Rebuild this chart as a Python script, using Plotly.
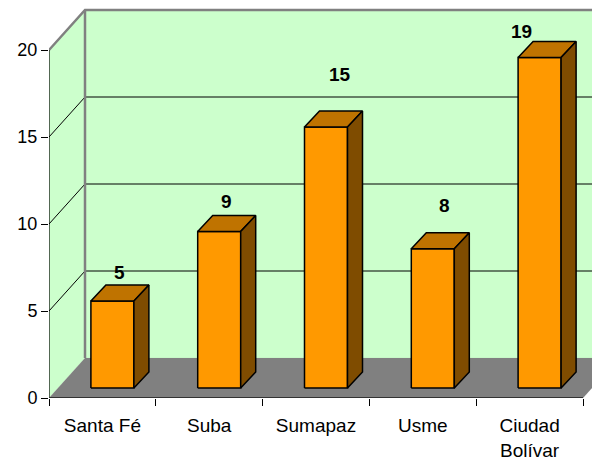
import plotly.graph_objects as go

categories = ["Santa Fé", "Suba", "Sumapaz", "Usme", "Ciudad<br>Bolívar"]
values = [5, 9, 15, 8, 19]
y_ticks = [0, 5, 10, 15, 20]
grid_values = [5, 10, 15]
y_top = 20

# label nudges in px (style only)
label_dx = [0, 0, 6, 4, -26]
label_dy = [0, 1, 24, 15, -3]

# page has an 8px body margin, so the figure is sized to fit inside the window
W, H = 592, 468
ML, MB = 41, 78
UX = 106.8   # px per category
UY = 17.4    # px per value unit
WDX, WDY = 36 / UX, 40 / UY      # wall depth
BFX, BFY = 10 / UX, 10 / UY      # bar front offset
BDX, BDY = 15 / UX, 16 / UY      # bar depth
BW = 43 / UX

FONT = "Liberation Sans, Arial, sans-serif"
WALL = "#CCFFCC"
FLOOR = "#808080"
FRONT = "#FF9900"
TOP = "#BF7300"
SIDE = "#7F4C00"

n = len(categories)
fig = go.Figure()


def poly(xs, ys, fill, line_color, lw):
    fig.add_trace(go.Scatter(x=xs, y=ys, mode="lines", fill="toself", fillcolor=fill,
                             line=dict(color=line_color, width=lw), hoverinfo="skip",
                             showlegend=False, cliponaxis=False))


def seg(xs, ys, color, lw):
    fig.add_trace(go.Scatter(x=xs, y=ys, mode="lines", line=dict(color=color, width=lw),
                             hoverinfo="skip", showlegend=False, cliponaxis=False))


# back wall
poly([WDX, n + WDX, n + WDX, WDX, WDX], [WDY, WDY, y_top + WDY, y_top + WDY, WDY], WALL, WALL, 0.1)
# left wall
poly([0, WDX, WDX, 0, 0], [0, WDY, y_top + WDY, y_top, 0], WALL, WALL, 0.1)
# floor
poly([0, n, n + WDX, WDX, 0], [0, 0, WDY, WDY, 0], FLOOR, FLOOR, 0.1)

# gridlines
for g in grid_values:
    seg([0, WDX, n + WDX], [g, g + WDY, g + WDY], "#000000", 1)
# wall borders
seg([0, WDX, n + WDX], [y_top, y_top + WDY, y_top + WDY], "#808080", 2.5)
seg([WDX, WDX], [WDY, y_top + WDY], "#808080", 2.5)

# bars
for i, v in enumerate(values):
    x0 = i + 0.5 - BW / 2 + BFX
    x1 = x0 + BW
    yb = BFY
    yt = v + BFY
    poly([x0, x1, x1, x0, x0], [yb, yb, yt, yt, yb], FRONT, "#000000", 1.5)
    poly([x0, x1, x1 + BDX, x0 + BDX, x0], [yt, yt, yt + BDY, yt + BDY, yt], TOP, "#000000", 1.5)
    poly([x1, x1 + BDX, x1 + BDX, x1, x1], [yb, yb + BDY, yt + BDY, yt, yb], SIDE, "#000000", 1.5)

# axis lines
seg([0, 0], [0, y_top], "#000000", 1.2)
seg([0, n], [0, 0], "#333333", 2)

annotations = []
for i, v in enumerate(values):
    annotations.append(dict(
        x=i + 0.5 + BFX + BDX / 2, y=v + BFY + BDY, xref="x", yref="y",
        text=str(v), showarrow=False, yanchor="bottom", xanchor="center",
        xshift=label_dx[i], yshift=label_dy[i],
        font=dict(family=FONT, size=19, color="#000000", weight="bold")))

fig.update_layout(
    width=W, height=H,
    margin=dict(l=ML, r=0, t=0, b=MB),
    paper_bgcolor="white", plot_bgcolor="white",
    annotations=annotations,
    xaxis=dict(range=[0, (W - ML) / UX], tickvals=[i + 0.5 for i in range(n)], ticktext=categories,
               ticks="", showgrid=False, zeroline=False, showline=False, ticklabelstandoff=14,
               tickfont=dict(family=FONT, size=19, color="#000000"),
               minor=dict(ticks="outside", tick0=0, dtick=1, ticklen=7, tickcolor="#000000",
                          tickwidth=1, showgrid=False)),
    yaxis=dict(range=[0, (H - MB) / UY], tickvals=y_ticks, ticks="outside", ticklen=7,
               tickcolor="#000000", showgrid=False, zeroline=False, showline=False,
               tickfont=dict(family=FONT, size=18, color="#000000")),
)

fig.write_html("out.html")
